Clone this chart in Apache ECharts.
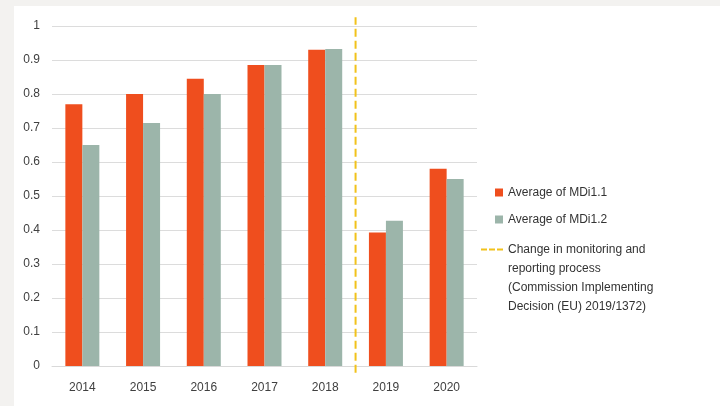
<!DOCTYPE html>
<html>
<head>
<meta charset="utf-8">
<script src="https://cdn.jsdelivr.net/npm/echarts@6/dist/echarts.min.js"></script>
<style>
  html, body { margin: 0; padding: 0; background: #f3f2f0; }
  #main { position: absolute; left: 14px; top: 6px; width: 706px; height: 400px; background: #ffffff; }
</style>
</head>
<body>
<div id="main"></div>
<script>
var years = ['2014', '2015', '2016', '2017', '2018', '2019', '2020'];
var mdi11 = [0.77, 0.80, 0.845, 0.885, 0.93, 0.393, 0.58];
var mdi12 = [0.65, 0.715, 0.80, 0.885, 0.932, 0.427, 0.55];
var yTicks = [0, 0.1, 0.2, 0.3, 0.4, 0.5, 0.6, 0.7, 0.8, 0.9, 1];
// dashed marker between 2018 and 2019 (category boundary index 5)
var changeLine = [[5, -0.02], [5, 1.026]];

var names = ['Average of MDi1.1', 'Average of MDi1.2',
  'Change in monitoring and\nreporting process\n(Commission Implementing\nDecision (EU) 2019/1372)'];

var font = '"Liberation Sans", sans-serif';
var yellow = '#f2c21b';
// square icon pushed to the right end of the icon box
var sq = 'path://M0,0L0,0M14,0L22,0L22,8L14,8Z';
// dashed icon sitting on the first text line of a 76px tall item
var dash = 'path://M0,0L0.01,0L0.01,0.01L0,0.01Z' +
  'M0,8.5L6,8.5L6,10.5L0,10.5Z M8,8.5L14,8.5L14,10.5L8,10.5Z M16,8.5L22,8.5L22,10.5L16,10.5Z' +
  'M21.99,75.99L22,75.99L22,76L21.99,76Z';

var legendText = { fontFamily: font, fontSize: 12, color: '#333', lineHeight: 19 };

var myChart = echarts.init(document.getElementById('main'));
var option = {
  animation: false,
  textStyle: { fontFamily: font },
  grid: { left: 38, right: 243, top: 20, bottom: 40 },
  legend: [{
    orient: 'vertical',
    left: 467,
    top: 177,
    padding: 0,
    itemWidth: 22,
    itemHeight: 8,
    itemGap: 8,
    textStyle: legendText,
    data: [
      { name: names[0], icon: sq },
      { name: names[1], icon: sq }
    ]
  }, {
    orient: 'vertical',
    left: 467,
    top: 234,
    padding: 0,
    itemWidth: 22,
    itemHeight: 76,
    textStyle: legendText,
    data: [{ name: names[2], icon: dash }]
  }],
  xAxis: [{
    type: 'category',
    data: years,
    axisLine: { lineStyle: { color: '#d9d9d9' } },
    axisTick: { show: false },
    axisLabel: { color: '#404040', fontSize: 12, margin: 16 }
  }, {
    type: 'value',
    min: 0,
    max: years.length,
    show: false
  }],
  yAxis: {
    type: 'value',
    min: yTicks[0],
    max: yTicks[yTicks.length - 1],
    interval: 0.1,
    axisLine: { show: false },
    axisTick: { show: false },
    splitLine: { lineStyle: { color: '#dcdcdc' } },
    axisLabel: {
      color: '#404040', fontSize: 12, margin: 12,
      formatter: function (v) { return String(Math.round(v * 10) / 10); }
    }
  },
  series: [{
    name: names[0],
    type: 'bar',
    data: mdi11,
    barGap: '0%',
    barCategoryGap: '44%',
    itemStyle: { color: '#ef4e1e' }
  }, {
    name: names[1],
    type: 'bar',
    data: mdi12,
    itemStyle: { color: '#9cb5aa' }
  }, {
    name: names[2],
    type: 'line',
    xAxisIndex: 1,
    data: changeLine,
    symbol: 'none',
    clip: false,
    lineStyle: { color: yellow, width: 2, type: [8, 4] },
    itemStyle: { color: yellow }
  }]
};
myChart.setOption(option);
</script>
</body>
</html>
